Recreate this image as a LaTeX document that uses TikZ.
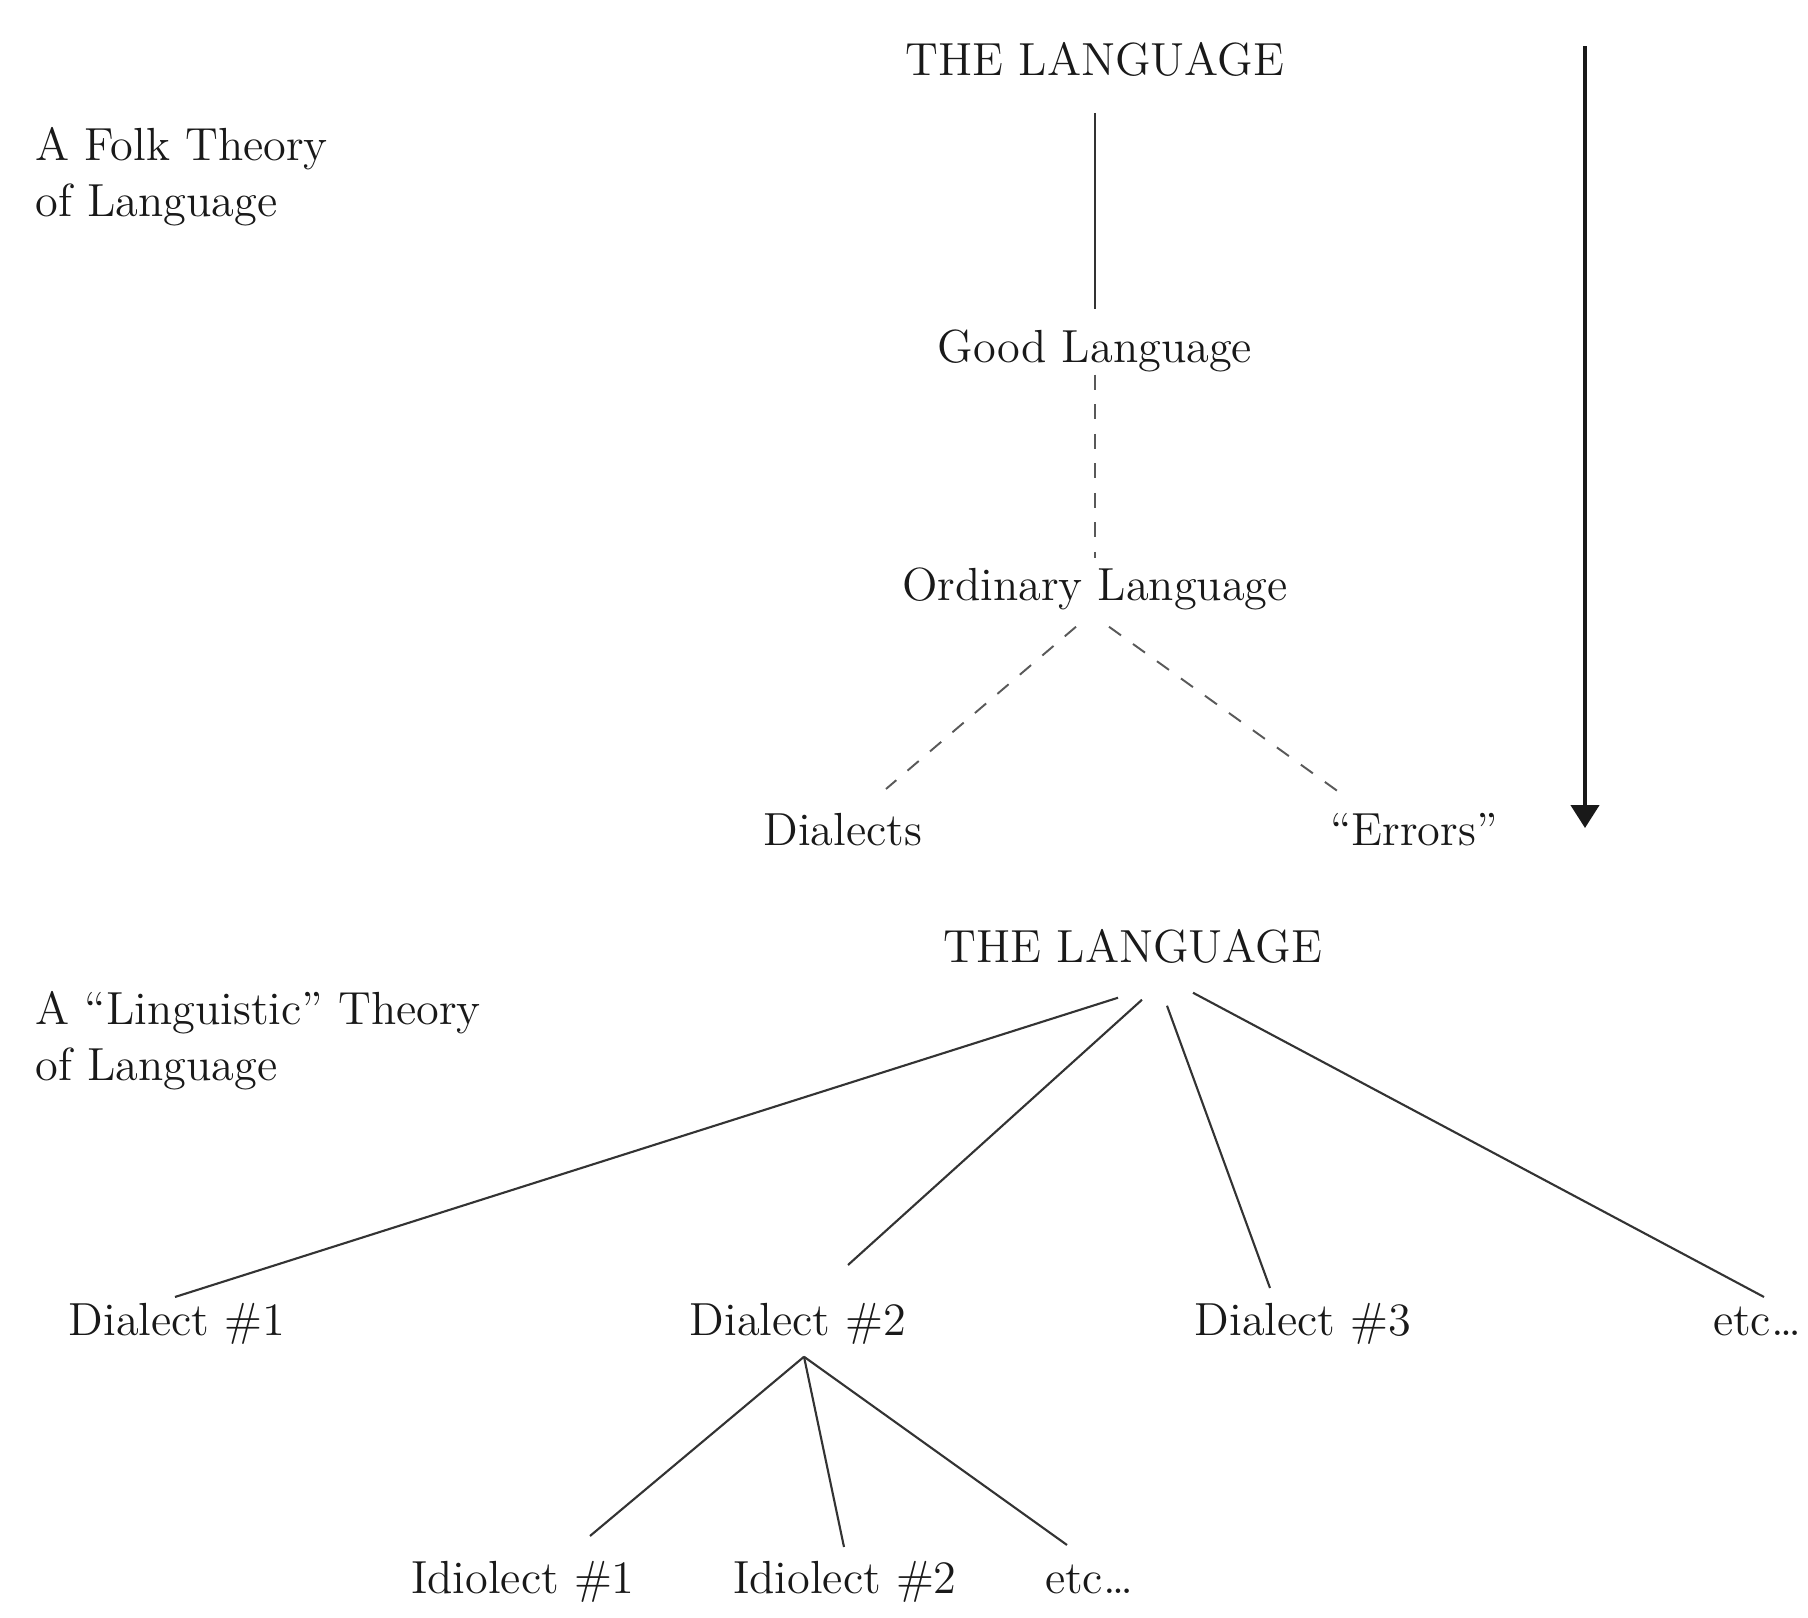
\documentclass[tikz,border=0pt]{standalone}
\usepackage{tikz}
\usetikzlibrary{arrows.meta,calc}

\begin{document}
\begin{tikzpicture}[
    x=0.01cm, y=-0.01cm,
    >=Stealth,
    txt/.style={
        inner sep=0pt,
        anchor=base,
        text height=0.72em,
        text depth=0.2em,
        text=black!90,
        font=\fontsize{13.2}{15.9}\selectfont
    },
    heading/.style={
        inner sep=0pt,
        anchor=north west,
        align=left,
        text=black!90,
        font=\fontsize{13.2}{15.9}\selectfont
    },
    branch/.style={line width=0.6pt, black!80},
    folkline/.style={line width=0.55pt, black!65, dash pattern=on 4.2pt off 4.2pt}
]

\useasboundingbox (0,0) rectangle (1808,1618);


% Folk theory

\node[heading] (folk) at (35,127) {A Folk Theory\\of Language};

\node[txt] (lang1) at (1095,75) {THE LANGUAGE};
\node[txt] (good) at (1095,362) {Good Language};
\node[txt] (ord) at (1095,600) {Ordinary Language};
\node[txt] (dia) at (843,845) {Dialects};
\node[txt] (err) at (1414,845) {``Errors''};

\draw[
    branch,
    shorten <=0.3cm,
    shorten >=0.27cm
] (lang1.south) -- (good.north);

\draw[
    folkline,
    shorten <=0.05cm,
    shorten >=0.155cm
] (good.south) -- (ord.north);

\draw[folkline] ($(ord.south)+(-19,19)$) -- ($(dia.north)+(43,-30)$);
\draw[folkline] ($(ord.south)+(14,19)$) -- ($(err.north)+(-71,-24)$);


% Direction of the arrow

\coordinate (arrtop) at (1585,46);
\coordinate (arrbot) at (1585,828);

\draw[
    -{Triangle[width=8pt, length=6.5pt]},
    line width=1pt,
    black!90
] (arrtop) -- (arrbot);


% Linguistic theory

\node[heading] (ling) at (35,991) {A ``Linguistic'' Theory\\of Language};

\node[txt] (lang2) at (1133,962) {THE LANGUAGE};
\node[txt] (d1) at (177,1335) {Dialect \#1};
\node[txt] (d2) at (798,1335) {Dialect \#2};
\node[txt] (d3) at (1303,1335) {Dialect \#3};
\node[txt] (detc) at (1757,1335) {etc\dots};

\draw[branch] ($(lang2.south)+(-15,28)$) -- ($(d1.north)+(-2,-12)$);
\draw[branch] ($(lang2.south)+(9,30)$) -- ($(d2.north)+(50,-44)$);
\draw[branch] ($(lang2.south)+(34,36)$) -- ($(d3.north)+(-33,-21)$);
\draw[branch] ($(lang2.south)+(60,23)$) -- ($(detc.north)+(7,-12)$);


% Idiolects

\node[txt] (i1) at (523,1593) {Idiolect \#1};
\node[txt] (i2) at (845,1593) {Idiolect \#2};
\node[txt] (ietc) at (1089,1593) {etc\dots};

\foreach \kid/\dx/\dy in {i1/67/-31, i2/-1/-20, ietc/-22/-22}
    \draw[branch] ($(d2.south)+(6,14)$) -- ($(\kid.north)+(\dx,\dy)$);

\end{tikzpicture}
\end{document}
